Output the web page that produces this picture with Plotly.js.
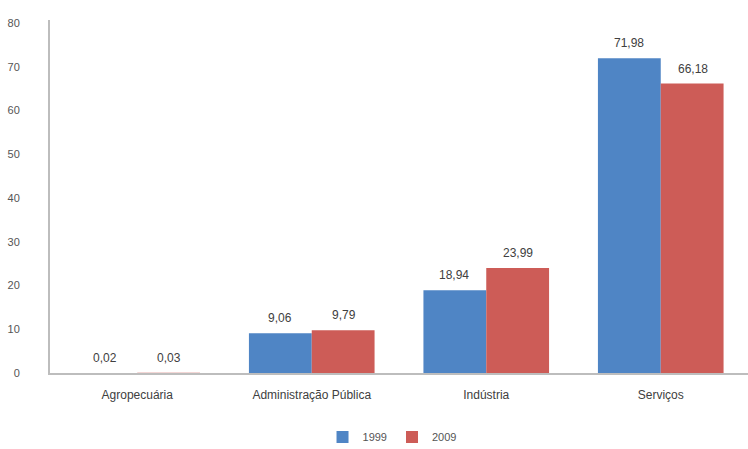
<!DOCTYPE html>
<html>
<head>
<meta charset="utf-8">
<script src="https://cdn.plot.ly/plotly-3.0.1.min.js"></script>
<style>
  html, body { margin: 0; padding: 0; background: #ffffff; }
  #chart { width: 748px; height: 449px; }
</style>
</head>
<body>
<div id="chart"></div>
<script>
// Sector shares (%), 1999 vs 2009
const categories = ['Agropecuária', 'Administração Pública', 'Indústria', 'Serviços'];
const values1999 = [0.02, 9.06, 18.94, 71.98];
const values2009 = [0.03, 9.79, 23.99, 66.18];
const seriesNames = ['1999', '2009'];
const yTicks = [0, 10, 20, 30, 40, 50, 60, 70, 80];

const blue = '#4F85C5';
const red = '#CD5C57';
const textColor = '#555555';
const fontFamily = '"Liberation Sans Narrow", "Liberation Sans", Arial, sans-serif';

const traces = [
  { type: 'bar', name: seriesNames[0], x: categories, y: values1999,
    marker: { color: blue }, hoverinfo: 'x+y' },
  { type: 'bar', name: seriesNames[1], x: categories, y: values2009,
    marker: { color: red }, hoverinfo: 'x+y' }
];

// Value labels above each bar, placed at the bar's own value
function fmt(v) { return v.toFixed(2).replace('.', ','); }
const annotations = [];
[values1999, values2009].forEach(function (vals, s) {
  vals.forEach(function (v, i) {
    annotations.push({
      x: categories[i], y: v, xref: 'x', yref: 'y',
      text: fmt(v), showarrow: false,
      xshift: s === 0 ? -32 : 32, yanchor: 'bottom', yshift: 6,
      font: { family: fontFamily, size: 12, color: '#404040' }
    });
  });
});

const layout = {
  width: 748, height: 449,
  margin: { l: 50, r: 0, t: 20, b: 76 },
  paper_bgcolor: '#ffffff', plot_bgcolor: '#ffffff',
  barmode: 'group', bargap: 0.28, bargroupgap: 0,
  separators: ',.',
  font: { family: fontFamily, size: 12, color: textColor },
  xaxis: {
    showline: true, linecolor: '#bdbdbd', linewidth: 2,
    showgrid: false, zeroline: false, ticks: '',
    tickfont: { family: fontFamily, size: 12, color: '#404040' },
    ticklabelstandoff: 10
  },
  yaxis: {
    range: [0, 80.7], tickvals: yTicks,
    showline: true, linecolor: '#bdbdbd', linewidth: 2,
    showgrid: false, zeroline: false, ticks: '',
    tickfont: { family: fontFamily, size: 11, color: textColor },
    ticklabelstandoff: 26
  },
  legend: {
    orientation: 'h', x: 0.49, xanchor: 'center',
    yref: 'container', y: 0.027, yanchor: 'middle',
    font: { family: fontFamily, size: 11, color: textColor },
    itemwidth: 30, traceorder: 'normal'
  },
  annotations: annotations,
  showlegend: true
};

Plotly.newPlot('chart', traces, layout, { displayModeBar: false, staticPlot: true });
</script>
</body>
</html>
